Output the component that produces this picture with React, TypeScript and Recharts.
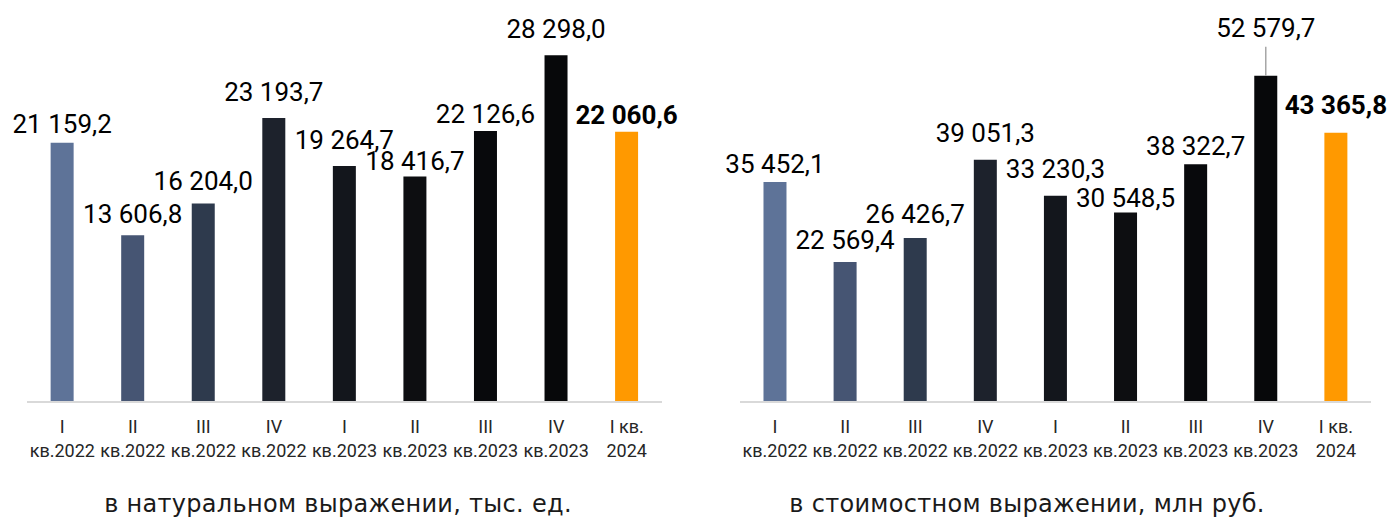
import React from "react";
import { BarChart, Bar, XAxis, YAxis, Cell, LabelList } from "recharts";

const quarterLabels = ["I", "II", "III", "IV", "I", "II", "III", "IV", "I кв."];
const yearLabels = ["кв.2022", "кв.2022", "кв.2022", "кв.2022", "кв.2023", "кв.2023", "кв.2023", "кв.2023", "2024"];
const volumeValues = [21159.2, 13606.8, 16204.0, 23193.7, 19264.7, 18416.7, 22126.6, 28298.0, 22060.6];
const valueValues = [35452.1, 22569.4, 26426.7, 39051.3, 33230.3, 30548.5, 38322.7, 52579.7, 43365.8];
const barColors = ["#5e7398", "#465573", "#2e3a4d", "#1d222c", "#13161c", "#0d0e11", "#08090c", "#07080a", "#ff9900"];
const titles = ["в натуральном выражении, тыс. ед.", "в стоимостном выражении, млн руб."];

// label gap above each bar (style, as placed in the original)
const volumeLabelGaps = [10, 12, 14, 17, 17, 6, 8, 17, 8];
const valueLabelGaps = [9, 13, 15, 18, 18, 5, 9, 39, 19];

const makeData = (vals: number[]) =>
  vals.map((v, i) => ({ key: i, q: quarterLabels[i], yr: yearLabels[i], value: v }));

const volumeData = makeData(volumeValues);
const valueData = makeData(valueValues);

const fmt = (v: number) => {
  const [int, dec] = v.toFixed(1).split(".");
  const withSpaces = int.replace(/\B(?=(\d{3})+(?!\d))/g, " ");
  return `${withSpaces},${dec}`;
};

const FONT = "Roboto, 'Liberation Sans', sans-serif";

const makeTick = (data: any[]) => (props: any) => {
  const { x, y, payload } = props;
  const d = data[payload.value];
  return (
    <text x={x} y={y} textAnchor="middle" fontFamily={FONT} fontSize={18} fill="#262626">
      <tspan x={x} dy={23}>{d.q}</tspan>
      <tspan x={x} dy={24}>{d.yr}</tspan>
    </text>
  );
};

const makeLabel = (vals: number[], gaps: number[], leaderIndex: number) => (props: any) => {
  const { x, y, width, index } = props;
  const v = vals[index];
  const cx = Number(x) + Number(width) / 2;
  const top = Number(y);
  const last = index === vals.length - 1;
  const gap = gaps[index];
  if (index === leaderIndex) {
    return (
      <g>
        <line x1={cx} x2={cx} y1={top - gap + 10} y2={top} stroke="#a6a6a6" strokeWidth={1.5} />
        <text x={cx} y={top - gap} textAnchor="middle" fontFamily={FONT} fontSize={26} fill="#000">
          {fmt(v)}
        </text>
      </g>
    );
  }
  return (
    <text
      x={cx}
      y={top - gap}
      textAnchor="middle"
      fontFamily={FONT}
      fontSize={26}
      fontWeight={last ? 700 : 400}
      fill="#000"
    >
      {fmt(v)}
    </text>
  );
};

type ChartProps = {
  data: any[];
  vals: number[];
  gaps: number[];
  width: number;
  left: number;
  right: number;
  top: number;
  max: number;
  leaderIndex: number;
};

const QuarterChart = ({ data, vals, gaps, width, left, right, top, max, leaderIndex }: ChartProps) => (
  <BarChart
    width={width}
    height={518}
    data={data}
    margin={{ top, right, left, bottom: 0 }}
    barCategoryGap="33.5%"
  >
    <XAxis
      dataKey="key"
      height={116}
      tickLine={false}
      axisLine={{ stroke: "#d9d9d9", strokeWidth: 2 }}
      tick={makeTick(data)}
      interval={0}
    />
    <YAxis hide domain={[0, max]} />
    <Bar dataKey="value" isAnimationActive={false}>
      {data.map((_, i) => (
        <Cell key={i} fill={barColors[i]} />
      ))}
      <LabelList dataKey="value" content={makeLabel(vals, gaps, leaderIndex)} />
    </Bar>
  </BarChart>
);

const titleStyle: React.CSSProperties = {
  position: "absolute",
  top: 489,
  fontFamily: "'DejaVu Sans', sans-serif",
  fontSize: 24,
  letterSpacing: "0.3px",
  lineHeight: "30px",
  color: "#1a1a1a",
  whiteSpace: "nowrap",
  transform: "translateX(-50%)",
};

export default function App() {
  return (
    <div style={{ position: "absolute", left: 0, top: 0, width: 1392, height: 518, background: "#fff", overflow: "hidden" }}>
      <div style={{ position: "absolute", left: 0, top: 0 }}>
        <QuarterChart data={volumeData} vals={volumeValues} gaps={volumeLabelGaps} width={700} left={27} right={38} top={10} max={32000} leaderIndex={-1} />
      </div>
      <div style={{ position: "absolute", left: 700, top: 0 }}>
        <QuarterChart data={valueData} vals={valueValues} gaps={valueLabelGaps} width={692} left={40} right={21} top={11} max={63000} leaderIndex={7} />
      </div>
      <div style={{ ...titleStyle, left: 338 }}>{titles[0]}</div>
      <div style={{ ...titleStyle, left: 1027 }}>{titles[1]}</div>
    </div>
  );
}
